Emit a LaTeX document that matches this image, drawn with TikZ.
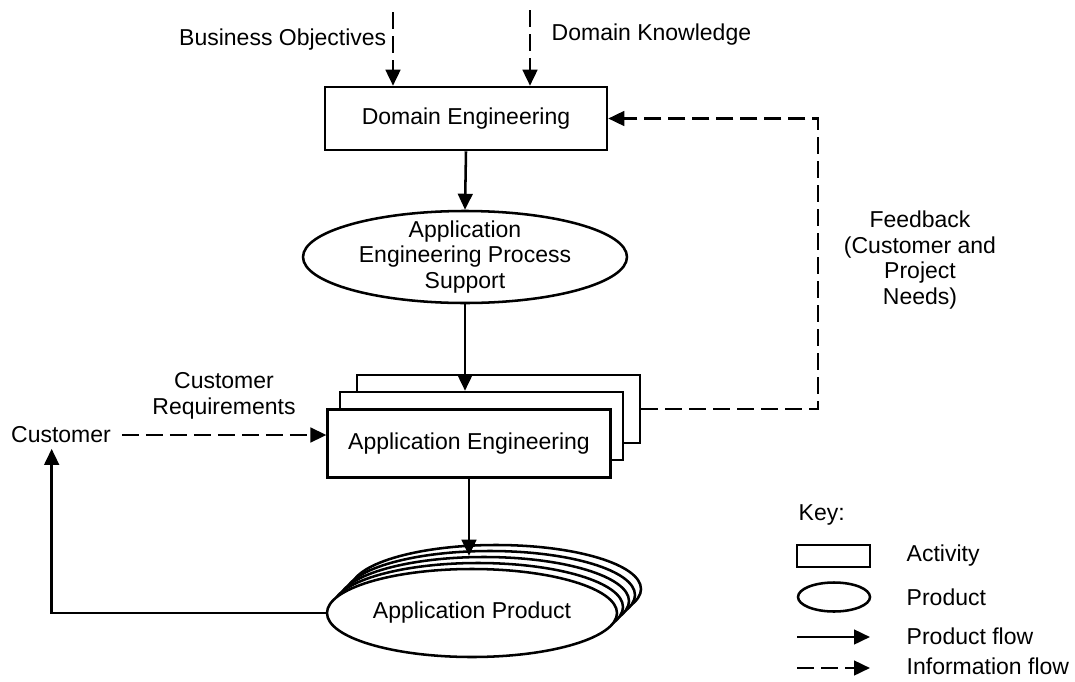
\documentclass[tikz,border=0pt]{standalone}
\usepackage{fontspec}
\setmainfont{Liberation Sans}
\usetikzlibrary{shapes.geometric,arrows.meta}
\begin{document}
\begin{tikzpicture}[x=0.75pt, y=-0.75pt, line width=1.9pt,
    every node/.style={font=\fontsize{17.25pt}{19.2pt}\selectfont, align=center},
    activity/.style={draw, rectangle, fill=white, minimum width=212pt, minimum height=51pt},
    product/.style={draw, ellipse, fill=white, inner sep=0pt, minimum width=217.5pt, minimum height=66pt},
    prodflow/.style={-{Triangle[length=12pt, width=11pt]}},
    infoflow/.style={prodflow, dash pattern=on 13pt off 5pt}]
    \useasboundingbox (0,0) rectangle (1075,682);
    % activities
    \node[activity, minimum width=211.5pt, minimum height=47.25pt] (domeng) at (466,118.5) {Domain Engineering};
    \node[activity] (appback) at (498.5,409) {};
    \node[activity] (appmid) at (481.5,426) {};
    \node[activity] (appfront) at (469,443.5) {Application Engineering};
    % products
    \node[draw, ellipse, minimum width=243pt, minimum height=69pt] (procsupport) at (465,257) {};
    \node (procsupporttext) at (procsupport) {Application\\Engineering Process\\Support};
    \foreach \i/\d in {5/24, 4/18, 3/12, 2/6}
        \node[product] (prod\i) at (472+\d,613-\d) {};
    \node[product] (prod1) at (472,613) {Application Product};
    % inputs
    \node[anchor=east] (busobj) at (392,40) {Business Objectives};
    \node[anchor=west] (domknow) at (546,35) {Domain Knowledge};
    \coordinate (busobjin) at (393,12);
    \coordinate (domknowin) at (530,10);
    \draw[infoflow] (busobjin) -- (busobjin |- domeng.north);
    \draw[infoflow] (domknowin) -- (domknowin |- domeng.north);
    % product flow down the middle
    \draw[prodflow] (domeng.south) -- (procsupport.north);
    \draw[prodflow] (procsupport.south) -- (procsupport.south |- appmid.north);
    \draw[prodflow] (appfront.south) -- (appfront.south |- prod3.north);
    % feedback
    \coordinate (fbcorner) at (818,118.5);
    \draw[infoflow] (appback.east) -| (fbcorner) -- (domeng.east);
    \node (feedback) at (920,260) {Feedback\\(Customer and\\Project\\Needs)};
    % customer
    \node (cust) at (61,435) {Customer};
    \node (custreq) at (224,396) {Customer\\Requirements};
    \draw[infoflow, shorten <=4pt] (cust.east) -- (cust.east -| appfront.west);
    \draw[prodflow] (prod1.west) -| ([xshift=-7pt]cust.south);
    % key
    \node[anchor=west] (key) at (793,515) {Key:};
    \node[draw, rectangle, minimum width=54.75pt, minimum height=16.5pt] (keyact) at (833.5,556) {};
    \node[anchor=west] (keyacttext) at (901,556) {Activity};
    \node[draw, ellipse, minimum width=54pt, minimum height=21.75pt] (keyprod) at (834,597) {};
    \node[anchor=west] (keyprodtext) at (901,597) {Product};
    \coordinate (keypf) at (797,637);
    \coordinate (keypfend) at (870,637);
    \draw[prodflow] (keypf) -- (keypfend);
    \node[anchor=west] (keypftext) at (901,636) {Product flow};
    \coordinate (keyif) at (797,668);
    \coordinate (keyifend) at (870,668);
    \draw[infoflow] (keyif) -- (keyifend);
    \node[anchor=west] (keyiftext) at (901,666) {Information flow};
\end{tikzpicture}
\end{document}
